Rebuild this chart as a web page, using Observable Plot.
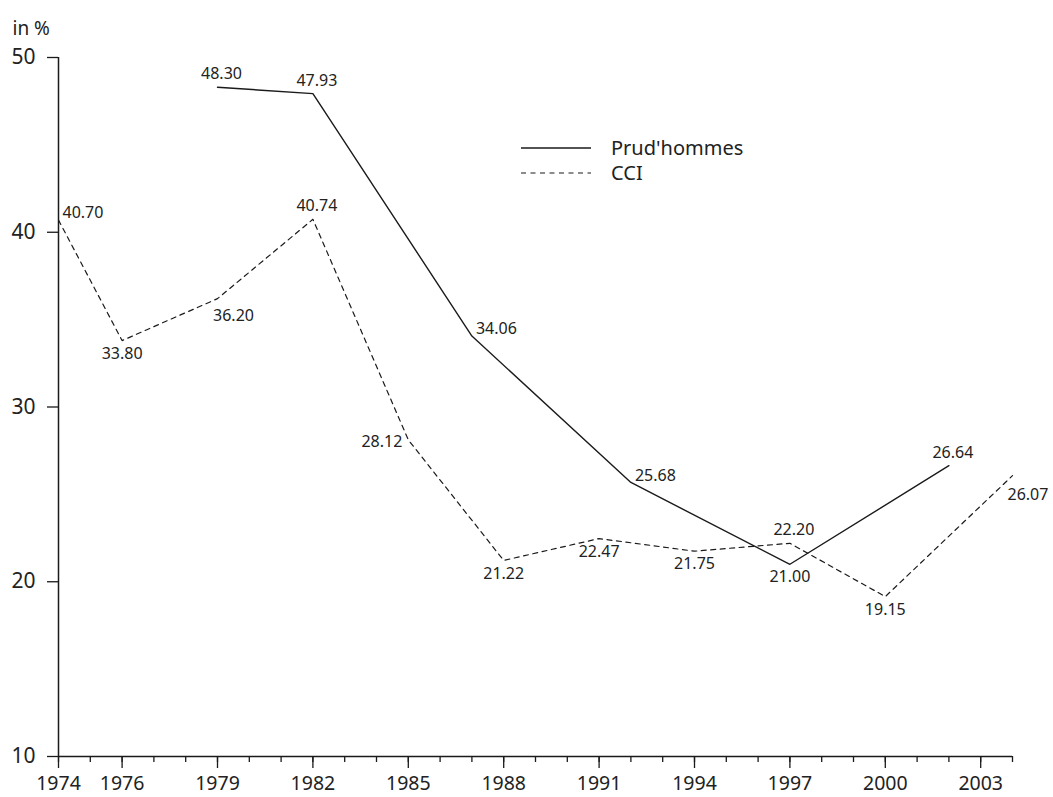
<!DOCTYPE html>
<html>
<head>
<meta charset="utf-8">
<script src="https://cdn.jsdelivr.net/npm/d3@7"></script>
<script src="https://cdn.jsdelivr.net/npm/@observablehq/plot@0.6"></script>
<style>
  html, body { margin: 0; padding: 0; background: #fff; }
  #wrap { position: relative; width: 1053px; height: 797px; font-family: "Noto Sans", sans-serif; color: #222; }
  #legend { position: absolute; left: 521px; top: 135px; font-size: 20px; }
  #legend .row { display: flex; align-items: center; height: 25.5px; }
  #legend span { line-height: 1; }
  #legend svg { width: 70px; height: 4px; margin-right: 20px; }
</style>
</head>
<body>
<div id="wrap">
  <div id="chart"></div>
  <div id="legend"></div>
</div>
<script>
// ---- Data ----
const prudYears = [1979, 1982, 1987, 1992, 1997, 2002];
const prudValues = [48.30, 47.93, 34.06, 25.68, 21.00, 26.64];
const prudLabelPlace = ["above", "above", "right", "right", "below", "above"];

const cciYears = [1974, 1976, 1979, 1982, 1985, 1988, 1991, 1994, 1997, 2000, 2004];
const cciValues = [40.70, 33.80, 36.20, 40.74, 28.12, 21.22, 22.47, 21.75, 22.20, 19.15, 26.07];
const cciLabelPlace = ["right", "below", "belowRight", "above", "left", "below", "below", "below", "above", "below", "belowStart"];

const xTickLabels = [1974, 1976, 1979, 1982, 1985, 1988, 1991, 1994, 1997, 2000, 2003];
const yTickLabels = [10, 20, 30, 40, 50];
const seriesNames = ["Prud'hommes", "CCI"];
const yUnit = "in %";

// ---- Build tables ----
const prud = prudYears.map((year, i) => ({year, value: prudValues[i], place: prudLabelPlace[i]}));
const cci = cciYears.map((year, i) => ({year, value: cciValues[i], place: cciLabelPlace[i]}));

const placements = {
  above:      {dx: 4,  dy: -13, textAnchor: "middle"},
  below:      {dx: 0,  dy: 13,  textAnchor: "middle"},
  right:      {dx: 4,  dy: -7,  textAnchor: "start"},
  left:       {dx: -6, dy: 2,   textAnchor: "end"},
  belowRight: {dx: 16, dy: 17,  textAnchor: "middle"},
  belowStart: {dx: -5, dy: 19,  textAnchor: "start"}
};

function labelMarks(data) {
  return Object.entries(placements).map(([key, p]) =>
    Plot.text(data.filter(d => d.place === key), {
      x: "year", y: "value",
      text: d => d.value.toFixed(2),
      fontSize: 16, fill: "#222",
      dx: p.dx, dy: p.dy, textAnchor: p.textAnchor
    })
  );
}

const ink = "#1a1a1a";

const chart = Plot.plot({
  width: 1053,
  height: 797,
  marginLeft: 58,
  marginRight: 41,
  marginTop: 57,
  marginBottom: 41,
  style: {fontFamily: "'Noto Sans', sans-serif", color: "#222", background: "#fff"},
  x: {domain: [1974, 2004]},
  y: {domain: [10, 50]},
  marks: [
    Plot.axisY({ticks: yTickLabels, tickSize: 11, tickPadding: 12, fontSize: 21, tickFormat: d => String(d), label: null, stroke: ink, strokeWidth: 1.3}),
    Plot.axisX({ticks: d3.range(1974, 2005), tickSize: 6, tickFormat: () => "", label: null, stroke: ink, strokeWidth: 1.3}),
    Plot.axisX({ticks: xTickLabels, tickSize: 12, tickPadding: 8, fontSize: 19.5, tickFormat: d => String(d), label: null, stroke: ink, strokeWidth: 1.3}),
    Plot.ruleX([1974], {stroke: ink, strokeWidth: 1.5}),
    Plot.ruleY([10], {stroke: ink, strokeWidth: 1.5}),
    Plot.line(prud, {x: "year", y: "value", stroke: ink, strokeWidth: 1.4}),
    Plot.line(cci, {x: "year", y: "value", stroke: ink, strokeWidth: 1.2, strokeDasharray: "5,4.5"}),
    ...labelMarks(prud),
    ...labelMarks(cci),
    Plot.text([yUnit], {text: d => d, frameAnchor: "top-left", dx: -46, dy: -36, textAnchor: "start", fontSize: 19, fill: "#222"})
  ]
});
document.getElementById("chart").appendChild(chart);

// ---- Legend ----
const legend = document.getElementById("legend");
const dashes = [null, "5,4.5"];
seriesNames.forEach((name, i) => {
  const row = document.createElement("div");
  row.className = "row";
  row.innerHTML = `<svg viewBox="0 0 70 4"><line x1="0" x2="70" y1="2" y2="2" stroke="${ink}" stroke-width="${i ? 1.2 : 1.4}" ${dashes[i] ? `stroke-dasharray="${dashes[i]}"` : ""}/></svg><span>${name}</span>`;
  legend.appendChild(row);
});
</script>
</body>
</html>
